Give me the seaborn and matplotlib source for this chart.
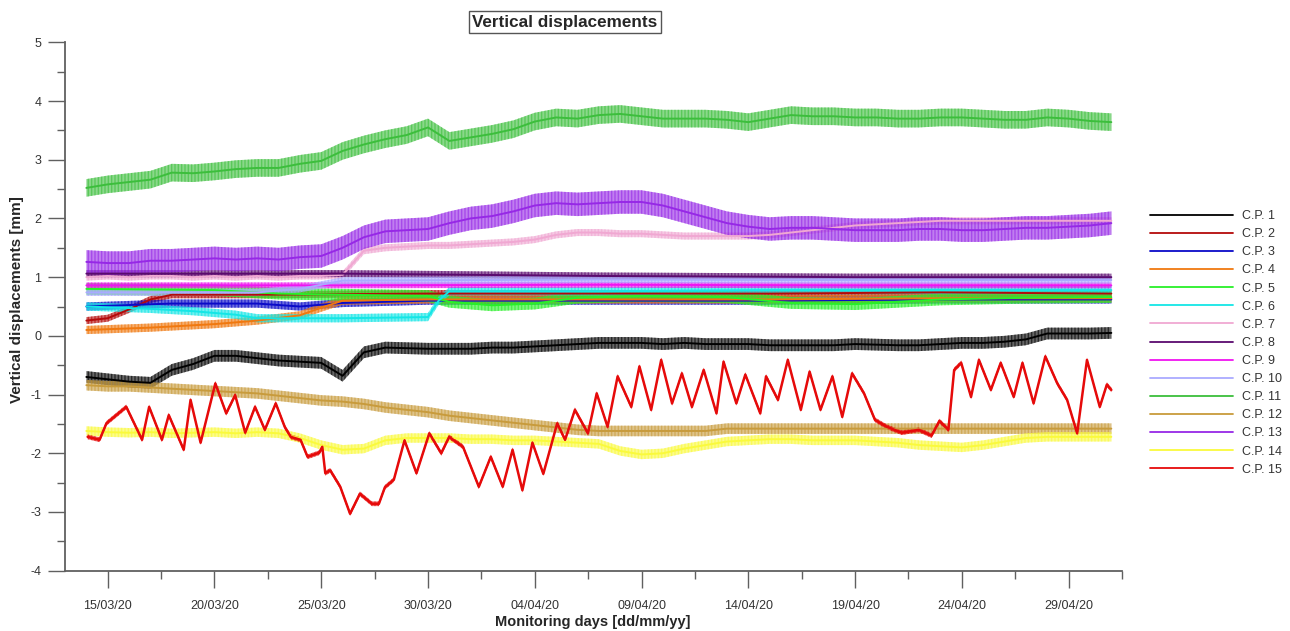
import numpy as np
import pandas as pd
import matplotlib
matplotlib.use("Agg")
import matplotlib.pyplot as plt
from matplotlib.lines import Line2D
from matplotlib.ticker import MultipleLocator
import seaborn as sns

# ---------------------------------------------------------------- data
start = pd.Timestamp("2020-03-14")
daily = np.arange(49)  # one reading per day, 14/03/20 .. 01/05/20

points = ["C.P. 1", "C.P. 2", "C.P. 3", "C.P. 4", "C.P. 5", "C.P. 6", "C.P. 7",
          "C.P. 8", "C.P. 9", "C.P. 10", "C.P. 11", "C.P. 12", "C.P. 13",
          "C.P. 14", "C.P. 15"]

colors = ["#000000", "#b40a0a", "#0a0ac8", "#f0780f", "#28f028", "#14e6e6",
          "#f0a8d2", "#5a0a6e", "#f014f0", "#aaaaff", "#3cbe3c", "#c89b3c",
          "#9628e6", "#fafa3c", "#e60a0a"]

# scatter (half-width of the reading noise) for each control point, mm
spread = [0.10, 0.06, 0.07, 0.07, 0.10, 0.07, 0.06, 0.06, 0.05, 0.06,
          0.15, 0.09, 0.20, 0.08, 0.04]

cp1_vals = [-0.70, -0.74, -0.78, -0.80, -0.58, -0.48, -0.34, -0.34, -0.38, -0.42,
            -0.44, -0.46, -0.68, -0.28, -0.20, -0.21, -0.22, -0.22, -0.22, -0.20,
            -0.20, -0.18, -0.16, -0.14, -0.12, -0.12, -0.12, -0.14, -0.12, -0.14,
            -0.14, -0.14, -0.16, -0.16, -0.16, -0.16, -0.14, -0.15, -0.16, -0.16,
            -0.14, -0.12, -0.12, -0.10, -0.06, 0.04, 0.04, 0.04, 0.05]

cp2_days = [0, 1, 2, 3, 4, 8, 16, 24, 32, 40, 48]
cp2_vals = [0.26, 0.30, 0.45, 0.62, 0.70, 0.70, 0.72, 0.72, 0.72, 0.74, 0.72]

cp3_days = [0, 4, 8, 10, 12, 16, 24, 32, 40, 48]
cp3_vals = [0.50, 0.55, 0.55, 0.50, 0.56, 0.60, 0.60, 0.60, 0.62, 0.62]

cp4_days = [0, 3, 6, 8, 10, 11, 12, 16, 24, 32, 40, 48]
cp4_vals = [0.10, 0.14, 0.20, 0.26, 0.35, 0.48, 0.60, 0.62, 0.62, 0.62, 0.64, 0.64]

cp5_days = [0, 6, 9, 12, 16, 17, 19, 21, 23, 26, 30, 33, 36, 38, 40, 44, 48]
cp5_vals = [0.80, 0.78, 0.72, 0.70, 0.68, 0.58, 0.52, 0.55, 0.65, 0.68, 0.66,
            0.56, 0.54, 0.58, 0.62, 0.65, 0.66]

cp6_days = [0, 3, 5, 7, 8, 12, 16, 16.5, 17, 24, 32, 40, 48]
cp6_vals = [0.50, 0.46, 0.42, 0.36, 0.30, 0.30, 0.32, 0.60, 0.76, 0.76, 0.78, 0.78, 0.78]

cp7_vals = [1.00, 1.02, 1.00, 1.02, 1.02, 1.00, 1.02, 1.00, 1.02, 1.00,
            1.02, 1.02, 1.04, 1.45, 1.50, 1.52, 1.54, 1.54, 1.56, 1.58,
            1.60, 1.64, 1.72, 1.76, 1.76, 1.74, 1.74, 1.72, 1.70, 1.70,
            1.70, 1.70, 1.72, 1.76, 1.80, 1.84, 1.88, 1.90, 1.92, 1.94,
            1.96, 1.96, 1.96, 1.96, 1.96, 1.96, 1.96, 1.96, 1.96]

cp8_days = [0, 12, 24, 36, 48]
cp8_vals = [1.06, 1.06, 1.02, 1.00, 1.00]

cp9_days = [0, 12, 24, 36, 48]
cp9_vals = [0.86, 0.86, 0.87, 0.86, 0.86]

cp10_days = [0, 8, 10, 12, 24, 36, 48]
cp10_vals = [0.74, 0.74, 0.80, 0.94, 0.96, 0.95, 0.95]

cp11_vals = [2.52, 2.58, 2.62, 2.66, 2.78, 2.77, 2.80, 2.84, 2.86, 2.86,
             2.93, 2.98, 3.15, 3.26, 3.35, 3.42, 3.55, 3.32, 3.38, 3.44,
             3.52, 3.65, 3.72, 3.70, 3.76, 3.78, 3.74, 3.70, 3.70, 3.70,
             3.68, 3.64, 3.70, 3.76, 3.74, 3.74, 3.72, 3.72, 3.70, 3.70,
             3.72, 3.72, 3.70, 3.68, 3.68, 3.72, 3.70, 3.66, 3.64]

cp12_vals = [-0.84, -0.86, -0.86, -0.88, -0.90, -0.92, -0.94, -0.96, -0.98, -1.02,
             -1.06, -1.10, -1.12, -1.16, -1.22, -1.26, -1.30, -1.36, -1.40, -1.44,
             -1.48, -1.52, -1.56, -1.60, -1.62, -1.62, -1.62, -1.62, -1.62, -1.62,
             -1.58, -1.58, -1.58, -1.58, -1.58, -1.58, -1.58, -1.58, -1.58, -1.58,
             -1.58, -1.58, -1.58, -1.58, -1.58, -1.58, -1.58, -1.58, -1.58]

cp13_vals = [1.26, 1.24, 1.24, 1.28, 1.28, 1.30, 1.32, 1.30, 1.32, 1.30,
             1.34, 1.36, 1.50, 1.68, 1.78, 1.80, 1.82, 1.92, 2.00, 2.04,
             2.12, 2.22, 2.26, 2.24, 2.26, 2.28, 2.28, 2.22, 2.12, 2.02,
             1.92, 1.86, 1.82, 1.84, 1.84, 1.82, 1.80, 1.80, 1.80, 1.82,
             1.82, 1.80, 1.80, 1.82, 1.84, 1.84, 1.86, 1.88, 1.92]

cp14_vals = [-1.62, -1.64, -1.65, -1.64, -1.66, -1.65, -1.64, -1.66, -1.64, -1.66,
             -1.74, -1.86, -1.94, -1.92, -1.78, -1.74, -1.74, -1.74, -1.76, -1.76,
             -1.78, -1.78, -1.80, -1.82, -1.84, -1.96, -2.02, -2.00, -1.92, -1.86,
             -1.80, -1.78, -1.76, -1.76, -1.78, -1.78, -1.78, -1.80, -1.82, -1.86,
             -1.88, -1.90, -1.86, -1.80, -1.74, -1.72, -1.72, -1.72, -1.72]

cp15_days = [0.06, 0.62, 0.94, 1.87, 2.61, 2.94, 3.54, 3.86, 4.56, 4.88, 5.35,
             6.04, 6.55, 6.97, 7.44, 7.90, 8.36, 8.87, 9.29, 9.57, 10.03, 10.36,
             10.91, 11.05, 11.19, 11.42, 11.89, 12.35, 12.81, 13.37, 13.70, 13.98,
             14.40, 14.90, 15.46, 16.06, 16.62, 16.99, 17.64, 18.38, 18.94, 19.50,
             19.96, 20.42, 20.89, 21.40, 22.05, 22.42, 22.88, 23.49, 23.90, 24.41,
             24.88, 25.52, 25.90, 26.45, 26.92, 27.43, 27.89, 28.36, 28.91, 29.51,
             29.84, 30.44, 30.86, 31.56, 31.83, 32.39, 32.85, 33.46, 33.87, 34.38,
             34.94, 35.40, 35.86, 36.42, 36.93, 37.49, 38.19, 38.98, 39.58, 39.95,
             40.37, 40.64, 40.97, 41.43, 41.80, 42.36, 42.82, 43.43, 43.84, 44.36,
             44.91, 45.47, 45.93, 46.40, 46.86, 47.46, 47.79, 48.00]
cp15_vals = [-1.72, -1.77, -1.49, -1.21, -1.77, -1.21, -1.77, -1.35, -1.94, -1.09, -1.82,
             -0.81, -1.32, -1.01, -1.65, -1.21, -1.60, -1.15, -1.55, -1.72, -1.77, -2.06,
             -1.99, -1.89, -2.34, -2.29, -2.57, -3.03, -2.69, -2.86, -2.86, -2.58,
             -2.45, -1.78, -2.34, -1.66, -2.00, -1.72, -1.89, -2.57, -2.06, -2.57,
             -1.94, -2.63, -1.82, -2.35, -1.49, -1.77, -1.26, -1.66, -0.98, -1.55,
             -0.69, -1.21, -0.52, -1.26, -0.41, -1.15, -0.64, -1.21, -0.58, -1.32,
             -0.44, -1.15, -0.66, -1.32, -0.69, -1.09, -0.41, -1.26, -0.61, -1.26,
             -0.69, -1.38, -0.64, -0.98, -1.43, -1.55, -1.65, -1.60, -1.70, -1.45,
             -1.60, -0.58, -0.46, -1.04, -0.41, -0.92, -0.46, -1.04, -0.46, -1.15,
             -0.35, -0.81, -1.09, -1.66, -0.41, -1.21, -0.83, -0.92]

tick_labels = ["15/03/20", "20/03/20", "25/03/20", "30/03/20", "04/04/20",
               "09/04/20", "14/04/20", "19/04/20", "24/04/20", "29/04/20"]

readings = [
    (daily, cp1_vals), (cp2_days, cp2_vals), (cp3_days, cp3_vals),
    (cp4_days, cp4_vals), (cp5_days, cp5_vals), (cp6_days, cp6_vals),
    (daily, cp7_vals), (cp8_days, cp8_vals), (cp9_days, cp9_vals),
    (cp10_days, cp10_vals), (daily, cp11_vals), (daily, cp12_vals),
    (daily, cp13_vals), (daily, cp14_vals), (cp15_days, cp15_vals),
]

frames = []
for name, (days, vals) in zip(points, readings):
    frames.append(pd.DataFrame({
        "date": start + pd.to_timedelta(np.asarray(days, dtype=float), unit="D"),
        "mm": np.asarray(vals, dtype=float),
        "point": name,
    }))
df = pd.concat(frames, ignore_index=True)

# ---------------------------------------------------------------- style
sns.set_style("ticks")
plt.rcParams["font.family"] = ["Liberation Sans", "DejaVu Sans"]
plt.rcParams["axes.unicode_minus"] = False
plt.rcParams["hatch.linewidth"] = 1.0

W, H = 1290, 631
fig = plt.figure(figsize=(W / 100, H / 100), dpi=100)
ax = fig.add_axes([65 / W, 1 - 570.7 / H, (1122 - 65) / W, (570.7 - 42.3) / H])

palette = dict(zip(points, colors))
line_widths = {name: (1.8 if name == "C.P. 15" else 1.4) for name in points}

# noise envelope of each record, hatched vertically like dense readings
for name, col, s in zip(points, colors, spread):
    sub = df[df["point"] == name]
    ax.fill_between(sub["date"].values, sub["mm"] - s, sub["mm"] + s,
                    facecolor=col, alpha=0.6, edgecolor=col, hatch="|||||",
                    linewidth=0, zorder=1)

sns.lineplot(data=df, x="date", y="mm", hue="point", hue_order=points,
             palette=palette, estimator=None, sort=False, size="point",
             sizes=line_widths, legend=False, ax=ax, zorder=2)

# ---------------------------------------------------------------- axes
tick_dates = pd.to_datetime(tick_labels, format="%d/%m/%y")
ax.set_xlim(pd.Timestamp("2020-03-13"), pd.Timestamp("2020-05-01"))
ax.set_ylim(-4, 5)
ax.set_xticks(tick_dates)
ax.set_xticklabels(tick_labels)
ax.set_xticks(tick_dates + pd.Timedelta(hours=60), minor=True)
ax.yaxis.set_major_locator(MultipleLocator(1))
ax.yaxis.set_minor_locator(MultipleLocator(0.5))

for side in ["top", "right"]:
    ax.spines[side].set_visible(False)
for side in ["left", "bottom"]:
    ax.spines[side].set_color("#606060")
    ax.spines[side].set_linewidth(1.3)

ax.tick_params(which="both", bottom=True, left=True, top=False, right=False)
ax.tick_params(which="major", direction="out", length=12, width=1.0,
               color="#606060", labelcolor="#333333", labelsize=9, pad=5)
ax.tick_params(axis="x", which="major", pad=9)
ax.tick_params(which="minor", direction="out", length=6, width=1.0,
               color="#606060")
ax.set_xlabel("")
ax.set_ylabel("")

fig.text(17 / W, 1 - 300 / H, "Vertical displacements [mm]", rotation=90,
         ha="center", va="center", fontsize=11, fontweight="bold")
fig.text(593 / W, 1 - 622 / H, "Monitoring days [dd/mm/yy]",
         ha="center", va="center", fontsize=10.5, fontweight="bold")
fig.text(565 / W, 1 - 22 / H, "Vertical displacements",
         ha="center", va="center", fontsize=12.3, fontweight="bold",
         bbox=dict(boxstyle="square,pad=0.2", facecolor="white",
                   edgecolor="#555555", linewidth=1.0))

handles = [Line2D([0], [0], color=c, lw=1.3) for c in colors]
ax.legend(handles, points, loc="upper left",
          bbox_to_anchor=(1150 / W, 1 - 210 / H), bbox_transform=fig.transFigure,
          frameon=False, fontsize=9, handlelength=6.6, handletextpad=0.8,
          labelspacing=0.49, borderpad=0, borderaxespad=0, labelcolor="#333333")

fig.savefig("out.png", dpi=100)
